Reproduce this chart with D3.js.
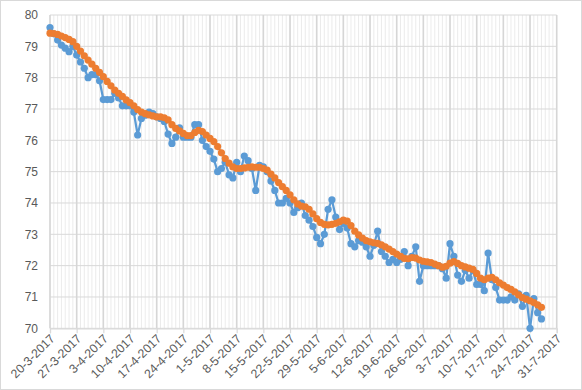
<!doctype html>
<html lang="en">
    <head>
        <meta charset="utf-8">
        <title>chart</title>
        <style>
            body { margin: 0; background: #fff; }
            text { font-family: "Liberation Sans", Arial, sans-serif; }
        </style>
    </head>

    <body>
        <script src="https://cdnjs.cloudflare.com/ajax/libs/d3/7.8.5/d3.min.js"></script>
        <script>

            // Data
            var startDate = Date.UTC(2017, 2, 20);
            var endDate = Date.UTC(2017, 6, 31);

            var blueValues = [
                79.6, 79.4, 79.2, 79.04, 78.94, 78.83, 79.0, 78.72, 78.5, 78.3,
                78.0, 78.1, 78.1, 77.9, 77.3, 77.3, 77.3, 77.5, 77.35, 77.1,
                77.1, 77.1, 76.9, 76.17, 76.7, 76.8, 76.9, 76.85, 76.75, 76.7,
                76.6, 76.2, 75.9, 76.1, 76.4, 76.1, 76.1, 76.1, 76.5, 76.5,
                76.0, 75.8, 75.65, 75.4, 75.0, 75.1, 75.3, 74.9, 74.8, 75.3,
                75.0, 75.5, 75.35, 75.1, 74.4, 75.2, 75.15, 75.0, 74.7, 74.4,
                74.0, 74.0, 74.15, 74.0, 73.7, 73.85, 74.0, 73.6, 73.45, 73.25,
                72.9, 72.7, 73.0, 73.8, 74.1, 73.55, 73.15, 73.35, 73.2, 72.7,
                72.6, 72.8, 72.75, 72.6, 72.3, 72.65, 73.1, 72.45, 72.3, 72.1,
                72.2, 72.1, 72.2, 72.45, 72.0, 72.3, 72.6, 71.5, 72.0, 72.0,
                72.0, 72.0, 72.0, 71.9, 71.6, 72.7, 72.3, 71.7, 71.5, 71.85,
                71.6, 71.85, 71.4, 71.4, 71.2, 72.4, 71.55, 71.3, 70.9, 70.9,
                70.9, 71.0, 70.9, 71.1, 70.7, 71.05, 70.0, 70.95, 70.5, 70.3
            ];

            var orangeValues = [
                79.42, 79.41, 79.38, 79.33, 79.28, 79.22, 79.15, 79.0, 78.85, 78.7,
                78.56, 78.43, 78.3, 78.17, 78.03, 77.88, 77.74, 77.6, 77.5, 77.4,
                77.29, 77.2, 77.1, 76.98, 76.9, 76.85, 76.81, 76.78, 76.75, 76.75,
                76.72, 76.65, 76.5, 76.38, 76.3, 76.22, 76.15, 76.15, 76.25, 76.32,
                76.28, 76.17, 76.06, 75.96, 75.8, 75.6, 75.42, 75.27, 75.15, 75.1,
                75.1, 75.12, 75.14, 75.15, 75.14, 75.14, 75.1, 75.05, 74.92, 74.8,
                74.65, 74.52, 74.4, 74.26, 74.1, 73.97, 73.9, 73.88, 73.8, 73.65,
                73.5, 73.38, 73.32, 73.3, 73.32, 73.35, 73.4, 73.45, 73.42, 73.28,
                73.1, 72.98, 72.88, 72.8, 72.76, 72.73, 72.71, 72.66, 72.6, 72.53,
                72.45, 72.37, 72.3, 72.23, 72.22, 72.26, 72.24, 72.18, 72.14, 72.12,
                72.1, 72.05, 72.0, 71.95, 71.98, 72.08, 72.13, 72.07, 72.0, 71.96,
                71.92, 71.88, 71.75, 71.6, 71.55, 71.6, 71.63, 71.55, 71.45, 71.38,
                71.3, 71.24, 71.16, 71.07, 70.98, 70.93, 70.88, 70.82, 70.75, 70.67
            ];

            var tickLabels = [
                "20-3-2017", "27-3-2017", "3-4-2017", "10-4-2017", "17-4-2017",
                "24-4-2017", "1-5-2017", "8-5-2017", "15-5-2017", "22-5-2017",
                "29-5-2017", "5-6-2017", "12-6-2017", "19-6-2017", "26-6-2017",
                "3-7-2017", "10-7-2017", "17-7-2017", "24-7-2017", "31-7-2017"
            ];
            var yTicks = [70, 71, 72, 73, 74, 75, 76, 77, 78, 79, 80];

            var w = 582;
            var h = 390;

            var svg = d3.select("body")
                        .append("svg")
                        .attr("width", w)
                        .attr("height", h);

            // chart border
            svg.append("rect")
               .attr("x", 0.5).attr("y", 0.5)
               .attr("width", w - 1).attr("height", h - 1)
               .attr("fill", "#fff")
               .attr("stroke", "#d9d9d9");

            var x = d3.scaleUtc()
                      .domain([startDate, endDate])
                      .range([50, 556.7]);

            var y = d3.scaleLinear()
                      .domain([70, 80])
                      .range([328.3, 15]);

            var days = d3.utcDay.range(startDate, d3.utcDay.offset(endDate, 1));
            var majorDays = tickLabels.map(function(d, i) {
                return d3.utcDay.offset(startDate, i * 7);
            });

            // minor daily gridlines
            svg.append("g")
               .selectAll("line")
               .data(days)
               .enter()
               .append("line")
               .attr("x1", function(d) { return x(d); })
               .attr("x2", function(d) { return x(d); })
               .attr("y1", y(80))
               .attr("y2", y(70))
               .attr("stroke", "#e6e6e6")
               .attr("stroke-width", 0.8);

            // horizontal gridlines
            svg.append("g")
               .selectAll("line")
               .data(yTicks)
               .enter()
               .append("line")
               .attr("x1", x(startDate))
               .attr("x2", x(endDate))
               .attr("y1", function(d) { return y(d); })
               .attr("y2", function(d) { return y(d); })
               .attr("stroke", "#d9d9d9")
               .attr("stroke-width", 1);

            // major weekly gridlines
            svg.append("g")
               .selectAll("line")
               .data(majorDays)
               .enter()
               .append("line")
               .attr("x1", function(d) { return x(d); })
               .attr("x2", function(d) { return x(d); })
               .attr("y1", y(80))
               .attr("y2", y(70))
               .attr("stroke", "#d6d6d6")
               .attr("stroke-width", 1.6);

            // x axis
            var xAxis = d3.axisBottom(x)
                          .tickValues(majorDays)
                          .tickSize(5)
                          .tickFormat(function(d, i) { return tickLabels[i]; });

            var gx = svg.append("g")
                        .attr("transform", "translate(0," + y(70) + ")")
                        .call(xAxis);
            gx.select(".domain").attr("stroke", "#d9d9d9").attr("stroke-width", 1.2);
            gx.selectAll(".tick line").attr("stroke", "#d9d9d9").attr("stroke-width", 1.2);
            gx.selectAll(".tick text")
              .attr("fill", "#595959")
              .style("font-size", "12.3px")
              .attr("text-anchor", "end")
              .attr("y", 0)
              .attr("dy", null)
              .attr("transform", "translate(5,11) rotate(-45)");

            // y axis labels
            var yAxis = d3.axisLeft(y)
                          .tickValues(yTicks)
                          .tickSize(0)
                          .tickPadding(0)
                          .tickFormat(d3.format("d"));

            var gy = svg.append("g")
                        .attr("transform", "translate(38,0)")
                        .call(yAxis);
            gy.select(".domain").remove();
            gy.selectAll(".tick text")
              .attr("fill", "#595959")
              .style("font-size", "12px");

            // series
            var line = d3.line()
                         .x(function(d, i) { return x(d3.utcDay.offset(startDate, i)); })
                         .y(function(d) { return y(d); });

            function drawSeries(values, color) {
                var g = svg.append("g");
                g.append("path")
                 .datum(values)
                 .attr("d", line)
                 .attr("fill", "none")
                 .attr("stroke", color)
                 .attr("stroke-width", 2.25)
                 .attr("stroke-linejoin", "round");
                g.selectAll("circle")
                 .data(values)
                 .enter()
                 .append("circle")
                 .attr("cx", function(d, i) { return x(d3.utcDay.offset(startDate, i)); })
                 .attr("cy", function(d) { return y(d); })
                 .attr("r", 3.6)
                 .attr("fill", color);
            }

            drawSeries(blueValues, "#5b9bd5");
            drawSeries(orangeValues, "#ed7d31");

        </script>
    </body>
</html>
